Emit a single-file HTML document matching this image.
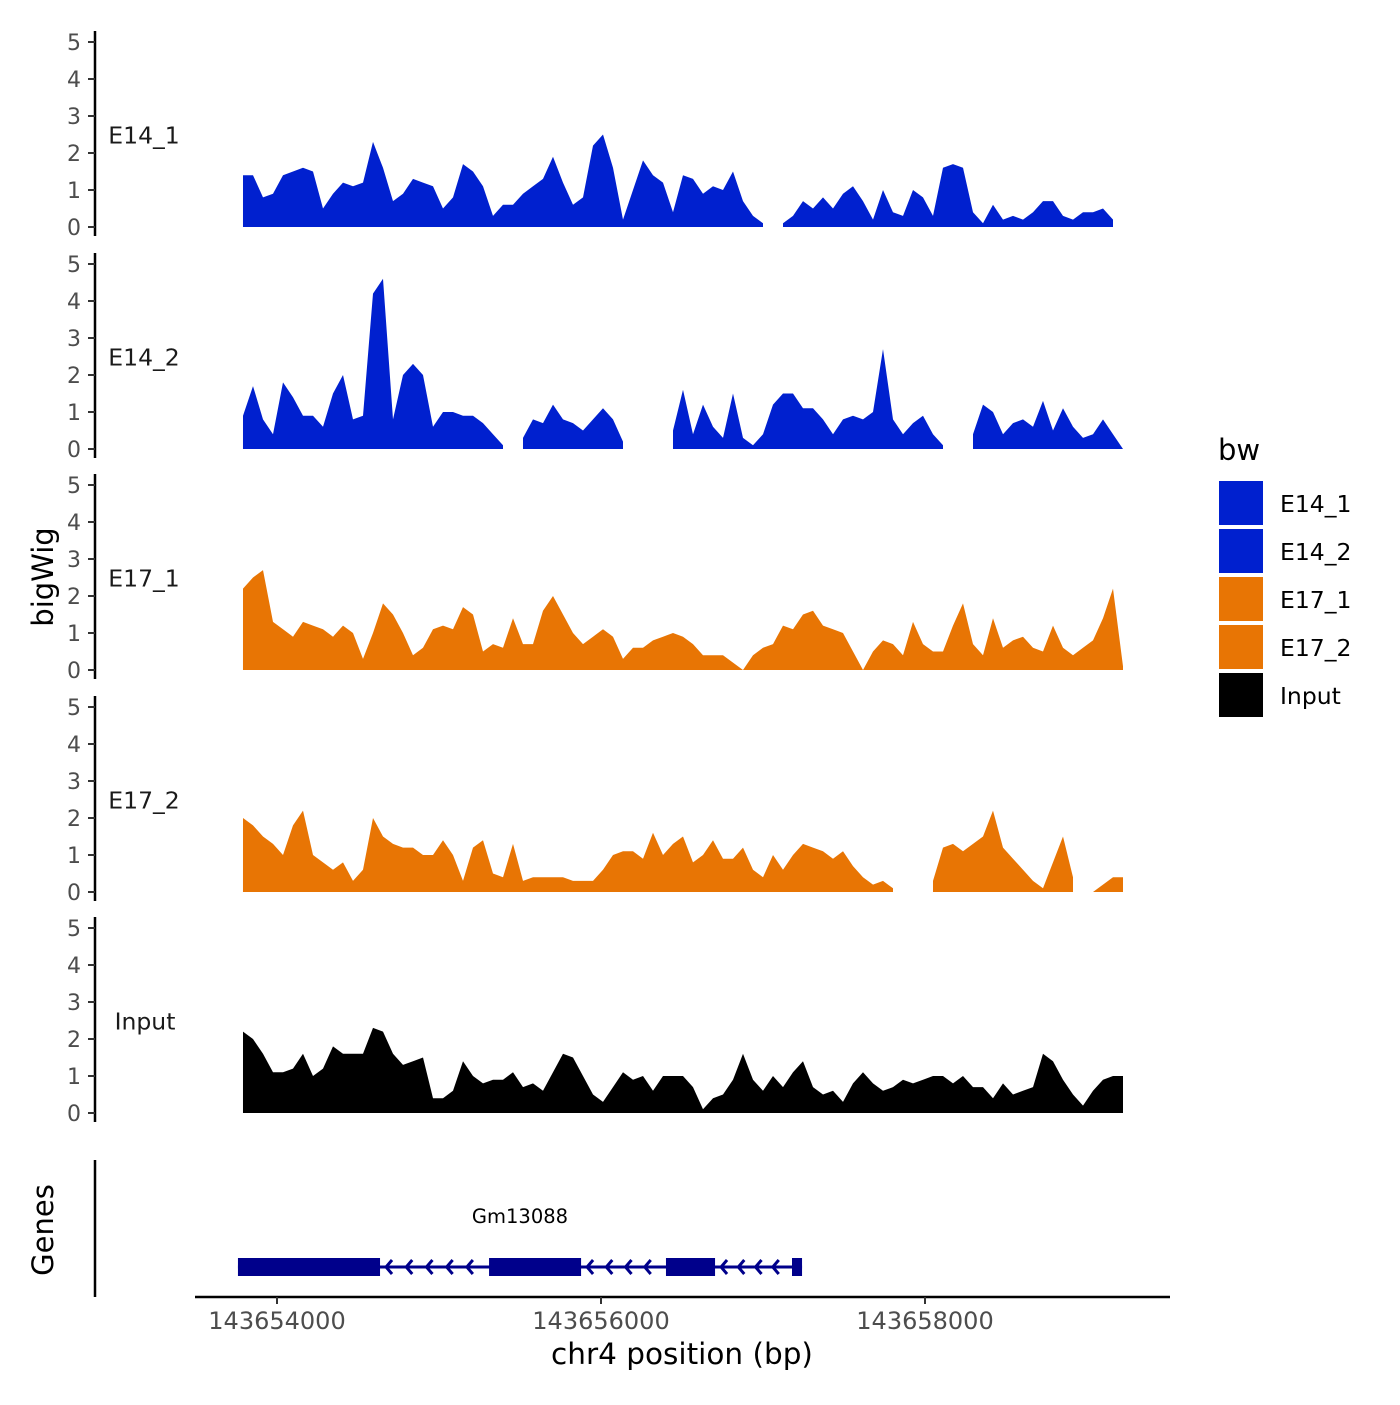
<!DOCTYPE html>
<html><head><meta charset="utf-8">
<style>
html,body{margin:0;padding:0;background:#fff;}
svg text{font-family:"DejaVu Sans","Liberation Sans",sans-serif;}
</style></head>
<body>
<svg id="chart" width="1400" height="1400" xmlns="http://www.w3.org/2000/svg">
<rect width="1400" height="1400" fill="#fff"/>
<g id="tracks"></g>
<g id="genes"></g>
<g id="axes"></g>
<g id="legend"></g>
</svg>
<script>
const trackNames = ["E14_1","E14_2","E17_1","E17_2","Input"];
const trackColors = ["#0020CF","#0020CF","#E87504","#E87504","#000000"];
const binStart = 143653790;
const binStep = 61.73;
const yTicks = [0,1,2,3,4,5];
const xTicks = [143654000,143656000,143658000];
const xTickLabels = ["143654000","143656000","143658000"];
const N = null;
const e14_1 = [1.4,1.4,0.8,0.9,1.4,1.5,1.6,1.5,0.5,0.9,1.2,1.1,1.2,2.3,1.6,0.7,0.9,1.3,1.2,1.1,0.5,0.8,1.7,1.5,1.1,0.3,0.6,0.6,0.9,1.1,1.3,1.9,1.2,0.6,0.8,2.2,2.5,1.6,0.2,1.0,1.8,1.4,1.2,0.4,1.4,1.3,0.9,1.1,1.0,1.5,0.7,0.3,0.1,N,0.1,0.3,0.7,0.5,0.8,0.5,0.9,1.1,0.7,0.2,1.0,0.4,0.3,1.0,0.8,0.3,1.6,1.7,1.6,0.4,0.1,0.6,0.2,0.3,0.2,0.4,0.7,0.7,0.3,0.2,0.4,0.4,0.5,0.2,N];
const e14_2 = [0.9,1.7,0.8,0.4,1.8,1.4,0.9,0.9,0.6,1.5,2.0,0.8,0.9,4.2,4.6,0.8,2.0,2.3,2.0,0.6,1.0,1.0,0.9,0.9,0.7,0.4,0.1,N,0.3,0.8,0.7,1.2,0.8,0.7,0.5,0.8,1.1,0.8,0.2,N,N,N,N,0.5,1.6,0.4,1.2,0.6,0.3,1.5,0.3,0.1,0.4,1.2,1.5,1.5,1.1,1.1,0.8,0.4,0.8,0.9,0.8,1.0,2.7,0.8,0.4,0.7,0.9,0.4,0.1,N,N,0.4,1.2,1.0,0.4,0.7,0.8,0.6,1.3,0.5,1.1,0.6,0.3,0.4,0.8,0.4,0.0];
const e17_1 = [2.2,2.5,2.7,1.3,1.1,0.9,1.3,1.2,1.1,0.9,1.2,1.0,0.3,1.0,1.8,1.5,1.0,0.4,0.6,1.1,1.2,1.1,1.7,1.5,0.5,0.7,0.6,1.4,0.7,0.7,1.6,2.0,1.5,1.0,0.7,0.9,1.1,0.9,0.3,0.6,0.6,0.8,0.9,1.0,0.9,0.7,0.4,0.4,0.4,0.2,0.0,0.4,0.6,0.7,1.2,1.1,1.5,1.6,1.2,1.1,1.0,0.5,0.0,0.5,0.8,0.7,0.4,1.3,0.7,0.5,0.5,1.2,1.8,0.7,0.4,1.4,0.6,0.8,0.9,0.6,0.5,1.2,0.6,0.4,0.6,0.8,1.4,2.2,0.1];
const e17_2 = [2.0,1.8,1.5,1.3,1.0,1.8,2.2,1.0,0.8,0.6,0.8,0.3,0.6,2.0,1.5,1.3,1.2,1.2,1.0,1.0,1.4,1.0,0.3,1.2,1.4,0.5,0.4,1.3,0.3,0.4,0.4,0.4,0.4,0.3,0.3,0.3,0.6,1.0,1.1,1.1,0.9,1.6,1.0,1.3,1.5,0.8,1.0,1.4,0.9,0.9,1.2,0.6,0.4,1.0,0.6,1.0,1.3,1.2,1.1,0.9,1.1,0.7,0.4,0.2,0.3,0.1,N,N,N,0.3,1.2,1.3,1.1,1.3,1.5,2.2,1.2,0.9,0.6,0.3,0.1,0.8,1.5,0.4,N,0.0,0.2,0.4,0.4];
const input = [2.2,2.0,1.6,1.1,1.1,1.2,1.6,1.0,1.2,1.8,1.6,1.6,1.6,2.3,2.2,1.6,1.3,1.4,1.5,0.4,0.4,0.6,1.4,1.0,0.8,0.9,0.9,1.1,0.7,0.8,0.6,1.1,1.6,1.5,1.0,0.5,0.3,0.7,1.1,0.9,1.0,0.6,1.0,1.0,1.0,0.7,0.1,0.4,0.5,0.9,1.6,0.9,0.6,1.0,0.7,1.1,1.4,0.7,0.5,0.6,0.3,0.8,1.1,0.8,0.6,0.7,0.9,0.8,0.9,1.0,1.0,0.8,1.0,0.7,0.7,0.4,0.8,0.5,0.6,0.7,1.6,1.4,0.9,0.5,0.2,0.6,0.9,1.0,1.0];
const trackValues = [e14_1,e14_2,e17_1,e17_2,input];
const geneName = "Gm13088";
const exonStarts = [143653759,143655309,143656401,143657179];
const exonEnds = [143654636,143655877,143656704,143657241];
const geneStart = 143653759, geneEnd = 143657241;

const NS = "http://www.w3.org/2000/svg";
function mk(tag, attrs, parent){const e=document.createElementNS(NS,tag);for(const k in attrs)e.setAttribute(k,attrs[k]);parent.appendChild(e);return e;}
function xpx(bp){return 277 + (bp-143654000)*0.162;}
const zeroY = [227,449,670,892,1113];
function ypx(t,v){return zeroY[t] - v*37;}

const tracksG=document.getElementById('tracks');
const axesG=document.getElementById('axes');
trackValues.forEach((vals,t)=>{
  const g=mk('g',{},tracksG);
  
  
  let run=[];
  const flush=()=>{
    if(run.length){
      let d='M'+xpx(binStart+run[0]*binStep)+','+zeroY[t];
      run.forEach(i=>{d+='L'+xpx(binStart+i*binStep).toFixed(1)+','+ypx(t,vals[i]).toFixed(1);});
      d+='L'+xpx(binStart+run[run.length-1]*binStep).toFixed(1)+','+zeroY[t]+'Z';
      const p=mk('path',{d:d,fill:trackColors[t]},g);
      
      
    }
    run=[];
  };
  vals.forEach((v,i)=>{ if(v===null) flush(); else run.push(i); });
  flush();
  const ag=mk('g',{},axesG);
  
  
  mk('line',{x1:95,x2:95,y1:ypx(t,5)-11,y2:zeroY[t]+9,stroke:'#000','stroke-width':2.5},ag);
  yTicks.forEach(v=>{
    mk('line',{x1:88,x2:95,y1:ypx(t,v),y2:ypx(t,v),stroke:'#333','stroke-width':2},ag);
    const tx=mk('text',{x:81,y:ypx(t,v)+8,'text-anchor':'end','font-size':22,fill:'#4d4d4d'},ag);
    tx.textContent=v;
    
    
  });
  const lab=mk('text',{x:t===4?145:144,y:ypx(t,2.5)+9,'text-anchor':'middle','font-size':23.5,fill:'#1a1a1a'},ag);
  lab.textContent=trackNames[t];
  
  
});
const yt=mk('text',{x:0,y:0,transform:'translate(53,577) rotate(-90)','text-anchor':'middle','font-size':29,fill:'#000'},axesG);
yt.textContent='bigWig';



const gg=document.getElementById('genes');
mk('line',{x1:95,x2:95,y1:1160,y2:1297,stroke:'#000','stroke-width':2.5},gg);
const gt=mk('text',{x:0,y:0,transform:'translate(53,1230) rotate(-90)','text-anchor':'middle','font-size':29,fill:'#000'},gg);
gt.textContent='Genes';


const gl=mk('text',{x:(xpx(geneStart)+xpx(geneEnd))/2,y:1223,'text-anchor':'middle','font-size':19.5,fill:'#000'},gg);
gl.textContent=geneName;


mk('line',{x1:xpx(geneStart),x2:xpx(geneEnd),y1:1267,y2:1267,stroke:'#00008B','stroke-width':3},gg);
for(let i=0;i<exonStarts.length-1;i++){
  const a=xpx(exonEnds[i]), b=xpx(exonStarts[i+1]);
  const n=Math.max(1,Math.round((b-a)/20));
  for(let k=0;k<n;k++){
    const cx=a+6+k*(b-a-8)/n;
    mk('polyline',{points:(cx+6)+',1260 '+cx+',1267 '+(cx+6)+',1274',fill:'none',stroke:'#00008B','stroke-width':3},gg);
  }
}
exonStarts.forEach((s,i)=>{
  const r=mk('rect',{x:xpx(s),y:1258,width:xpx(exonEnds[i])-xpx(s),height:18,fill:'#00008B'},gg);
  
  
});

const xg=mk('g',{},axesG);


mk('line',{x1:195,x2:1170,y1:1297,y2:1297,stroke:'#000','stroke-width':2.5},xg);
xTicks.forEach((b,i)=>{
  mk('line',{x1:xpx(b),x2:xpx(b),y1:1297,y2:1304,stroke:'#333','stroke-width':2},xg);
  const tx=mk('text',{x:xpx(b),y:1329,'text-anchor':'middle','font-size':24,fill:'#4d4d4d'},xg);
  tx.textContent=xTickLabels[i];
  
  
});
const xt=mk('text',{x:682,y:1364,'text-anchor':'middle','font-size':29.5,fill:'#000'},xg);
xt.textContent='chr4 position (bp)';



const lg=document.getElementById('legend');
const lt=mk('text',{x:1218,y:460,'font-size':29,fill:'#000'},lg);
lt.textContent='bw';


const keyY=[481,529,577,625,673];
trackNames.forEach((n,i)=>{
  const r=mk('rect',{x:1219,y:keyY[i],width:44,height:44,fill:trackColors[i]},lg);
  
  
  const tx=mk('text',{x:1280,y:keyY[i]+31,'font-size':23.5,fill:'#000'},lg);
  tx.textContent=n;
  
  
});
</script>
</body></html>
